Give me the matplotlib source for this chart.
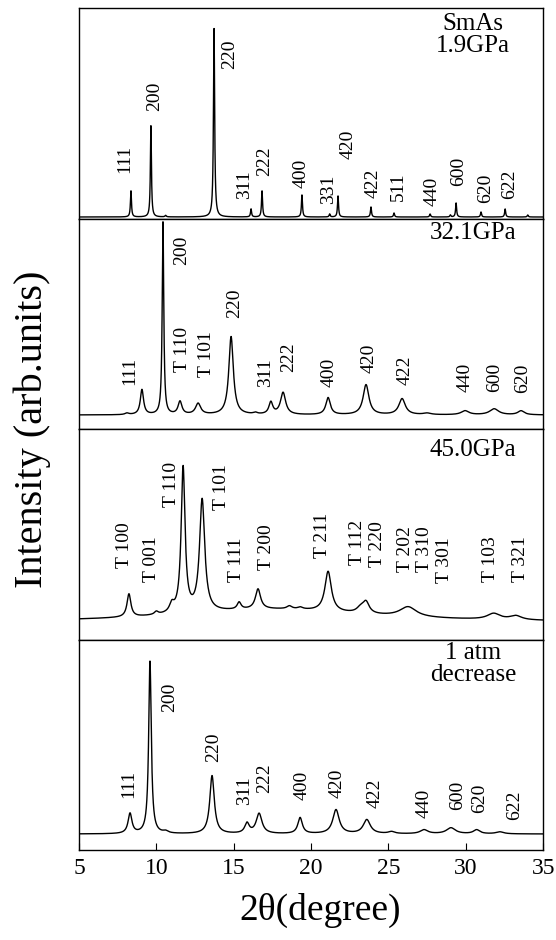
import numpy as np
import matplotlib
matplotlib.use('Agg')
import matplotlib.pyplot as plt

plt.rcParams['font.family'] = ['Liberation Serif', 'DejaVu Serif']

# ---------------- data (2theta in degree, intensity in arb. units) ----------------
two_theta = np.arange(5.0, 35.0001, 0.005)

# Panel 1: SmAs 1.9 GPa
p1_base = 1.5
p1_centers = [8.36, 9.65, 10.6, 13.73, 16.12, 16.83, 19.41, 21.2, 21.74, 23.87, 25.36, 27.69, 29.0, 29.37, 30.98, 32.54, 34.0]
p1_heights = [26, 91, 1.5, 188, 8, 26, 22, 3, 21, 10, 4, 3, 2, 14, 5, 8, 2]
p1_widths = [0.08, 0.08, 0.1, 0.09, 0.08, 0.08, 0.08, 0.08, 0.08, 0.08, 0.08, 0.08, 0.08, 0.08, 0.08, 0.08, 0.08]
p1_labels = ['111', '200', '220', '311', '222', '400', '331', '420', '422', '511', '440', '600', '620', '622']
p1_label_x = [7.97, 9.91, 14.76, 15.67, 17.02, 19.35, 21.10, 22.39, 24.0, 25.62, 27.82, 29.56, 31.31, 32.86]
p1_label_y = [45, 107, 149, 19, 42, 30, 14, 59, 20, 17, 12, 32, 15, 19]
p1_title = 'SmAs\n1.9GPa'

# Panel 2: 32.1 GPa
p2_base = 14
p2_centers = [8.1, 9.07, 10.43, 11.53, 12.7, 14.83, 16.4, 17.4, 18.19, 21.1, 23.55, 25.88, 27.5, 29.95, 31.83, 33.57]
p2_heights = [1.5, 25, 192, 13, 11, 78, 1.5, 12, 22, 17, 30, 16, 1.5, 4, 6, 4]
p2_widths = [0.3, 0.25, 0.12, 0.3, 0.4, 0.35, 0.3, 0.3, 0.4, 0.35, 0.45, 0.5, 0.6, 0.6, 0.7, 0.5]
p2_labels = ['111', '200', 'T 110', 'T 101', '220', '311', '222', '400', '420', '422', '440', '600', '620']
p2_label_x = [8.30, 11.66, 11.72, 13.27, 15.08, 17.09, 18.57, 21.16, 23.75, 26.07, 29.95, 31.89, 33.64]
p2_label_y = [44, 164, 57, 52, 111, 42, 57, 42, 56, 44, 37, 37, 36]
p2_title = '32.1GPa'

# Panel 3: 45.0 GPa
p3_base = 17
p3_centers = [17.5, 8.23, 10.0, 11.0, 11.73, 12.96, 15.35, 16.57, 18.6, 19.3, 21.1, 23.2, 23.55, 26.27, 31.8, 33.23]
p3_heights = [13, 23, 3, 8, 145, 112, 7, 20, 3, 2, 40, 5, 11, 10, 6, 4]
p3_widths = [15, 0.3, 0.3, 0.35, 0.3, 0.4, 0.3, 0.4, 0.4, 0.4, 0.5, 0.6, 0.5, 1.3, 1.0, 0.9]
p3_labels = ['T 100', 'T 001', 'T 110', 'T 101', 'T 111', 'T 200', 'T 211', 'T 112', 'T 220',
             'T 202', 'T 310', 'T 301', 'T 103', 'T 321']
p3_label_x = [7.97, 9.72, 10.95, 14.18, 15.21, 17.15, 20.71, 22.97, 24.26, 26.07, 27.30, 28.59, 31.57, 33.51]
p3_label_y = [71, 57, 132, 129, 57, 69, 81, 74, 72, 67, 67, 56, 57, 57]
p3_title = '45.0GPa'

# Panel 4: 1 atm decrease
p4_base = 16
p4_centers = [8.3, 9.59, 10.6, 13.6, 15.86, 16.64, 19.29, 21.61, 23.6, 25.2, 27.3, 29.04, 30.7, 32.2]
p4_heights = [20, 172, 2, 58, 10, 20, 16, 24, 14, 2, 4, 6, 4, 2]
p4_widths = [0.3, 0.2, 0.4, 0.35, 0.35, 0.45, 0.35, 0.5, 0.55, 0.5, 0.6, 0.7, 0.5, 0.6]
p4_labels = ['111', '200', '220', '311', '222', '400', '420', '422', '440', '600', '620', '622']
p4_label_x = [8.23, 10.88, 13.73, 15.67, 17.02, 19.41, 21.68, 24.13, 27.30, 29.5, 30.92, 33.18]
p4_label_y = [52, 138, 88, 45, 57, 50, 52, 42, 32, 40, 37, 30]
p4_title = '1 atm\ndecrease'

x_ticks = [5, 10, 15, 20, 25, 30, 35]


def pattern(base, centers, heights, widths):
    y = np.full_like(two_theta, float(base))
    for c, h, w in zip(centers, heights, widths):
        y += h / (1.0 + (2.0 * (two_theta - c) / w) ** 2)
    return y


panels = [
    (p1_base, p1_centers, p1_heights, p1_widths, p1_labels, p1_label_x, p1_label_y, p1_title, 183),
    (p2_base, p2_centers, p2_heights, p2_widths, p2_labels, p2_label_x, p2_label_y, p2_title, 196),
    (p3_base, p3_centers, p3_heights, p3_widths, p3_labels, p3_label_x, p3_label_y, p3_title, 189),
    (p4_base, p4_centers, p4_heights, p4_widths, p4_labels, p4_label_x, p4_label_y, p4_title, 186),
]

fig = plt.figure(figsize=(5.56, 9.4), dpi=100)
axes = fig.subplots(4, 1, sharex=True, gridspec_kw=dict(hspace=0))
fig.subplots_adjust(left=0.142, right=0.977, top=0.9915, bottom=0.0957)

for ax, (base, cen, hei, wid, labs, lx, ly, title, ty) in zip(axes, panels):
    ax.plot(two_theta, pattern(base, cen, hei, wid), color='black', lw=1.0)
    ax.set_xlim(5, 35)
    ax.set_ylim(0, 210)
    for t, x, y in zip(labs, lx, ly):
        ax.text(x, y, t, rotation=90, ha='center', va='bottom', fontsize=14)
    ax.text(30.47, ty, title, ha='center', va='center', fontsize=18, linespacing=1.0)
    ax.tick_params(left=False, labelleft=False, bottom=False, labelbottom=False)
    for s in ax.spines.values():
        s.set_linewidth(1.0)
        s.set_color('black')

axb = axes[-1]
axb.set_xticks(x_ticks)
axb.tick_params(bottom=True, labelbottom=True, direction='in', length=5, width=0.8,
                labelsize=17, pad=6)
axb.set_xlabel('2θ(degree)', fontsize=27, labelpad=8)
axb.xaxis.set_label_coords(0.52, -0.205)

fig.text(0.058, 0.5436, 'Intensity (arb.units)', rotation=90, ha='center', va='center', fontsize=29)

fig.savefig('out.png', dpi=100)
